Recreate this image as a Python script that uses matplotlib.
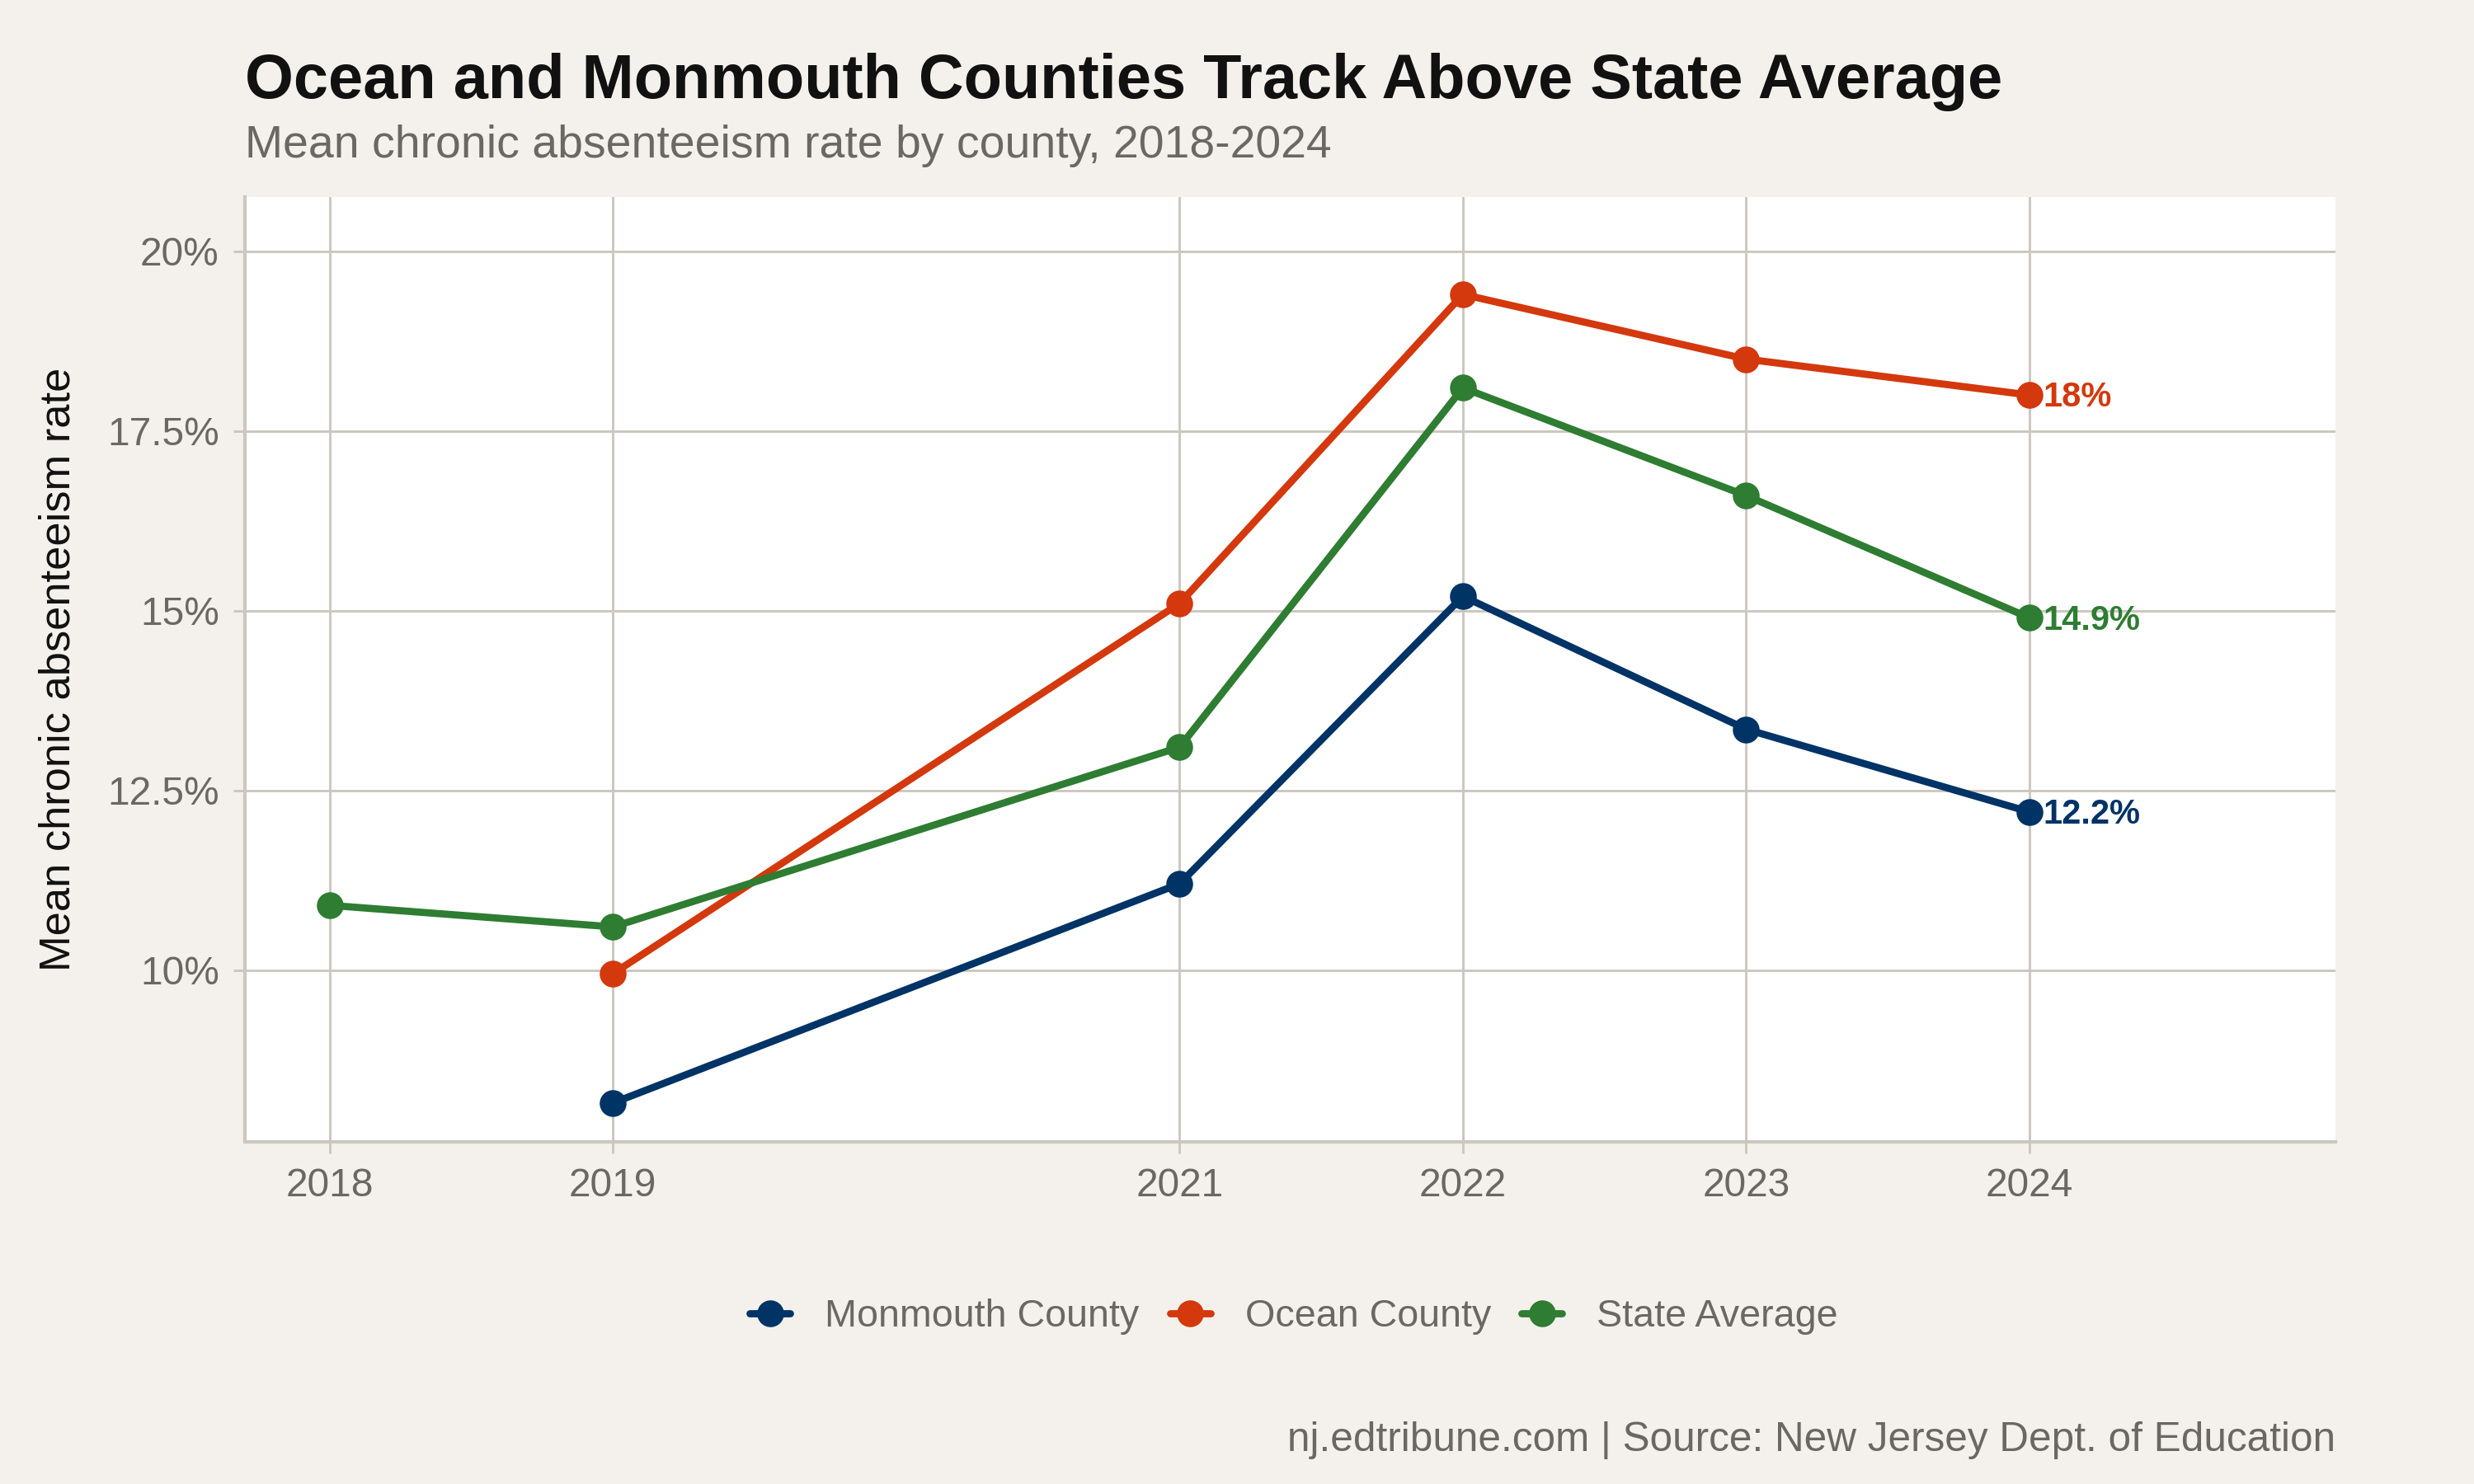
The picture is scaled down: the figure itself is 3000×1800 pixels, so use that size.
import matplotlib
matplotlib.use("Agg")
import matplotlib.pyplot as plt

plt.rcParams['font.family'] = ['Liberation Sans', 'DejaVu Sans']

# data (percent)
years_state = [2018, 2019, 2021, 2022, 2023, 2024]
state = [10.9, 10.6, 13.1, 18.1, 16.6, 14.9]
years_county = [2019, 2021, 2022, 2023, 2024]
monmouth = [8.15, 11.2, 15.2, 13.35, 12.2]
ocean = [9.95, 15.1, 19.4, 18.5, 18.0]

series = [
    ("Monmouth County", years_county, monmouth, "#003366"),
    ("Ocean County", years_county, ocean, "#D4380D"),
    ("State Average", years_state, state, "#2E7D32"),
]
xticks = [2018, 2019, 2021, 2022, 2023, 2024]
yticks = [10, 12.5, 15, 17.5, 20]
ylabels = ["10%", "12.5%", "15%", "17.5%", "20%"]

bg = "#F4F1EC"
grid_col = "#CCC7BF"
grey_txt = "#6B6862"

fig = plt.figure(figsize=(10, 6), dpi=300, facecolor=bg)
ax = fig.add_axes([0.0989, 0.2306, 0.8451, 0.6364])
ax.set_facecolor("white")

for name, x, y, col in series:
    ax.plot(x, y, color=col, lw=2.1, marker="o", ms=6.8, label=name,
            solid_capstyle="round", zorder=3)
    lab = f"{round(y[-1], 1):g}%"
    ax.annotate(lab, (x[-1], y[-1]), xytext=(4, -0.8), textcoords="offset points",
                ha="left", va="center", color=col, fontsize=10,
                fontweight="bold", zorder=4)

ax.set_xlim(2017.7, 2025.08)
ax.set_ylim(7.61, 20.75)
ax.set_xticks(xticks)
ax.set_xticklabels([str(t) for t in xticks])
ax.set_yticks(yticks)
ax.set_yticklabels(ylabels)

ax.grid(True, color=grid_col, lw=0.7, zorder=0)
for s in ["top", "right"]:
    ax.spines[s].set_visible(False)
for s in ["left", "bottom"]:
    ax.spines[s].set_color(grid_col)
    ax.spines[s].set_linewidth(1.0)
ax.tick_params(axis="both", colors=grid_col, length=3.4, width=0.7,
               labelcolor=grey_txt, labelsize=11.5, pad=4)

fig.text(0.0236, 0.5488, "Mean chronic absenteeism rate", rotation=90,
         ha="center", va="center", fontsize=12.6, color="#111111")

fig.text(0.0989, 0.934, "Ocean and Monmouth Counties Track Above State Average",
         fontsize=18.2, fontweight="bold", color="#111111", va="baseline")
fig.text(0.0989, 0.894, "Mean chronic absenteeism rate by county, 2018-2024",
         fontsize=13.3, color=grey_txt, va="baseline")
fig.text(0.944, 0.022, "nj.edtribune.com | Source: New Jersey Dept. of Education",
         fontsize=11.9, color=grey_txt, ha="right", va="baseline")

ax.legend(loc="center", bbox_to_anchor=(0.523, 0.1126), bbox_transform=fig.transFigure,
          ncol=3, frameon=False, fontsize=11.2, labelcolor=grey_txt,
          handlelength=1.05, handletextpad=0.9, columnspacing=0.8)

fig.savefig("out.png", dpi=300, facecolor=bg)
